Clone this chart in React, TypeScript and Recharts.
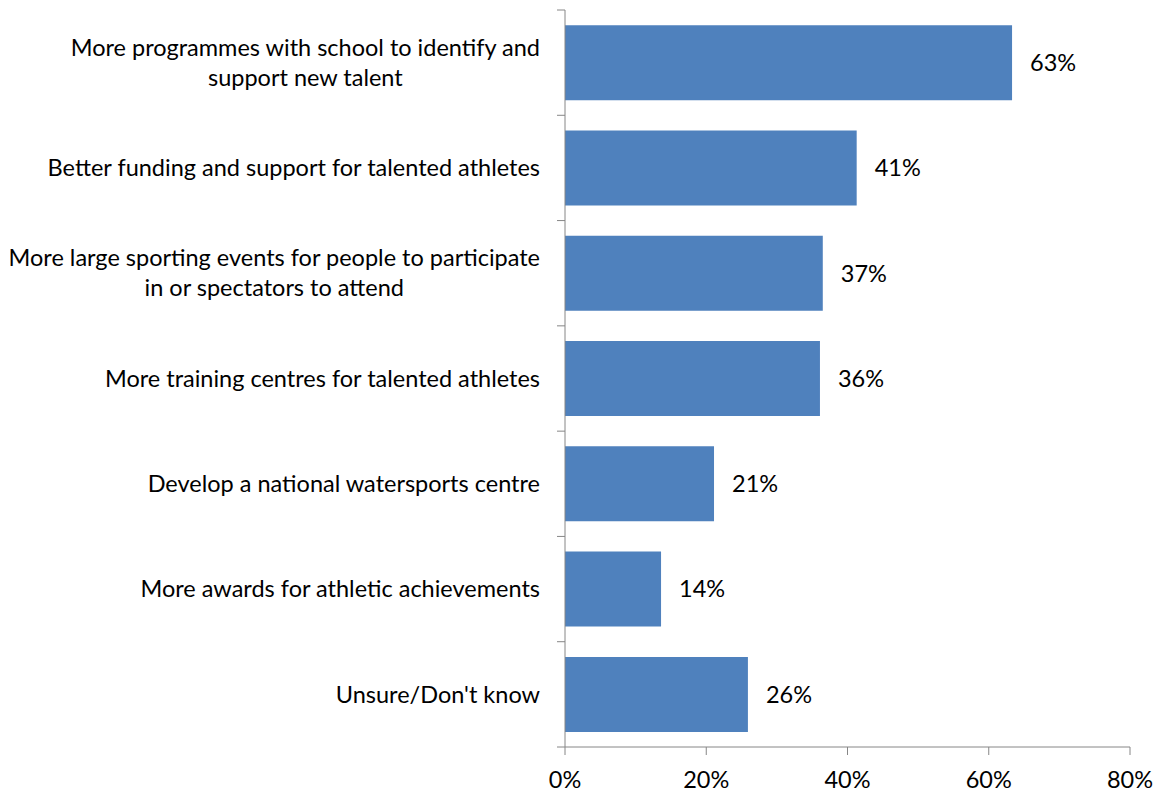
import React, { useLayoutEffect, useRef, useState } from "react";
import { BarChart, Bar, XAxis, YAxis, LabelList } from "recharts";

const categories = [
  "More programmes with school to identify and\nsupport new talent",
  "Better funding and support for talented athletes",
  "More large sporting events for people to participate\nin or spectators to attend",
  "More training centres for talented athletes",
  "Develop a national watersports centre",
  "More awards for athletic achievements",
  "Unsure/Don't know",
];
const shares = [0.633, 0.413, 0.365, 0.361, 0.211, 0.136, 0.259];
const xTicks = [0, 0.2, 0.4, 0.6, 0.8];

const FONT = "Lato, 'Open Sans', sans-serif";
const FONT_SIZE = 23.5;
const AXIS_GREY = "#868686";
const BAR_BLUE = "#4F81BD";

const CHART_W = 1159;
const CHART_H = 801;
const MARGIN = { top: 10, right: 29, bottom: 0, left: 0 };
const X_AXIS_H = 54;
const Y_AXIS_W = 565;

const data = categories.map((name, i) => ({ name, value: shares[i] }));

// wrapped label: block right-aligned to the axis, lines centred in the block
// also draws the boundary tick marks that Excel puts between categories
function CategoryTick(props: any) {
  const { y, payload, index } = props;
  const lines: string[] = String(payload.value).split("\n");
  const ref = useRef<SVGGElement>(null);
  const [blockW, setBlockW] = useState(0);

  useLayoutEffect(() => {
    if (!ref.current) return;
    const texts = Array.from(ref.current.querySelectorAll("text"));
    const w = Math.max(...texts.map((t) => t.getComputedTextLength()));
    if (Math.abs(w - blockW) > 0.5) setBlockW(w);
  });

  const plotH = CHART_H - MARGIN.top - MARGIN.bottom - X_AXIS_H;
  const half = plotH / categories.length / 2;
  const axisX = MARGIN.left + Y_AXIS_W;
  const cx = axisX - 25 - blockW / 2;
  const lh = 30;
  const top = y - ((lines.length - 1) * lh) / 2;

  return (
    <g>
      <line x1={axisX - 8} x2={axisX} y1={y - half} y2={y - half} stroke={AXIS_GREY} />
      {index === categories.length - 1 && (
        <line x1={axisX - 8} x2={axisX} y1={y + half} y2={y + half} stroke={AXIS_GREY} />
      )}
      <g ref={ref}>
        {lines.map((l, i) => (
          <text
            key={i}
            x={cx}
            y={top + i * lh}
            dy="0.35em"
            textAnchor="middle"
            fontFamily={FONT}
            fontSize={FONT_SIZE}
            fill="#000"
          >
            {l}
          </text>
        ))}
      </g>
    </g>
  );
}

export default function App() {
  return (
    <div style={{ position: "absolute", left: 0, top: 0, background: "#fff" }}>
      <BarChart
        width={CHART_W}
        height={CHART_H}
        data={data}
        layout="vertical"
        margin={MARGIN}
        barCategoryGap="14.4%"
      >
        <XAxis
          type="number"
          domain={[0, 0.8]}
          ticks={xTicks}
          tickFormatter={(v: number) => `${Math.round(v * 100)}%`}
          stroke={AXIS_GREY}
          tickSize={8}
          tick={{ fill: "#000", fontFamily: FONT, fontSize: FONT_SIZE, dy: 14 }}
          height={X_AXIS_H}
        />
        <YAxis
          type="category"
          dataKey="name"
          width={Y_AXIS_W}
          stroke={AXIS_GREY}
          tickLine={false}
          tick={<CategoryTick />}
          interval={0}
        />
        <Bar dataKey="value" fill={BAR_BLUE} isAnimationActive={false}>
          <LabelList
            dataKey="value"
            position="right"
            offset={18}
            formatter={(v: any) => `${Math.round(Number(v) * 100)}%`}
            style={{ fill: "#000", fontFamily: FONT, fontSize: FONT_SIZE }}
          />
        </Bar>
      </BarChart>
    </div>
  );
}
